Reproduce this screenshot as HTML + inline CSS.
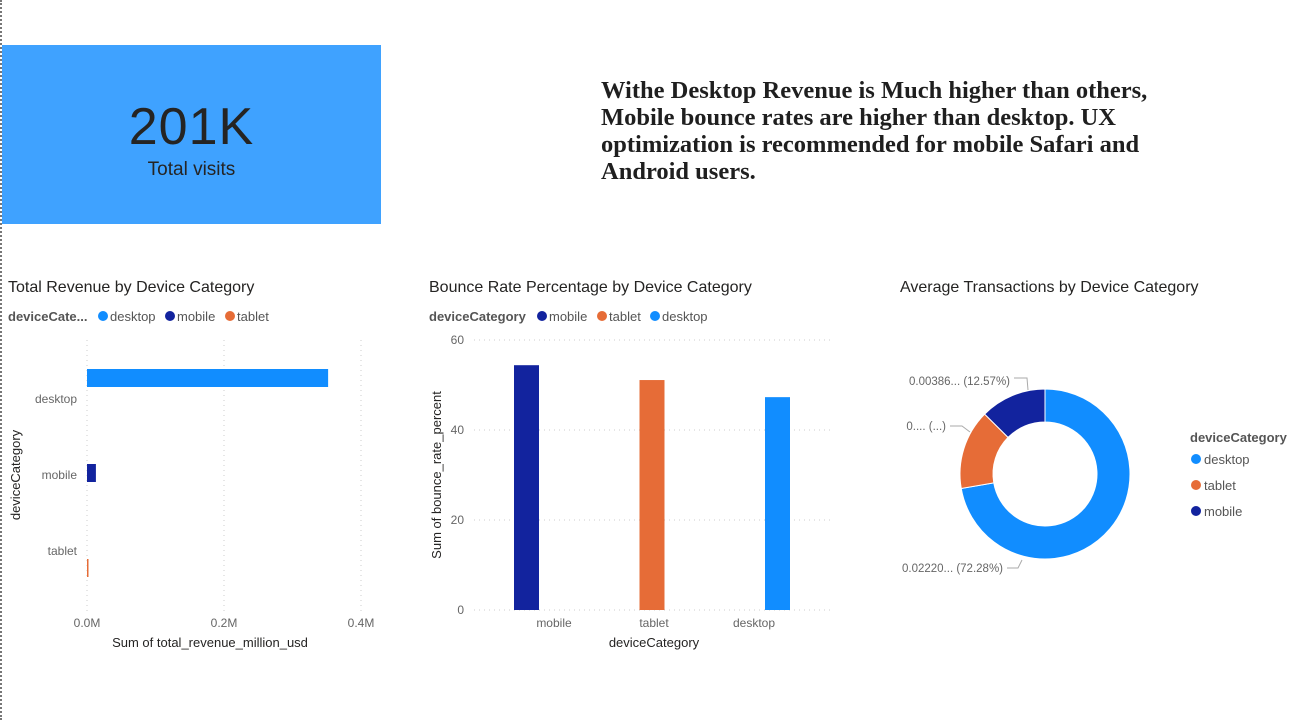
<!DOCTYPE html>
<html><head><meta charset="utf-8">
<style>
body{margin:0;width:1306px;height:720px;background:#fff;overflow:hidden;font-family:"Liberation Sans","DejaVu Sans",sans-serif;position:relative}
.abs{position:absolute}
</style></head>
<body>
<div class="abs" style="left:0;top:0;width:0;height:720px;border-left:2px dotted #777"></div>
<div class="abs" style="left:2px;top:45px;width:379px;height:179px;background:#3fa2ff;text-align:center">
  <div style="margin-top:52px;font-size:52px;color:#252423;line-height:60px;letter-spacing:1px">201K</div>
  <div style="font-size:19px;color:#252423;margin-top:2px">Total visits</div>
</div>
<div class="abs" style="left:601px;top:77px;width:590px;font-family:'Liberation Serif',serif;font-weight:bold;font-size:24.5px;line-height:27px;color:#1f1f1f">Withe Desktop Revenue is Much higher than others, Mobile bounce rates are higher than desktop. UX optimization is recommended for mobile Safari and Android users.</div>

<svg class="abs" style="left:0;top:0" width="1306" height="720" font-family="Liberation Sans, DejaVu Sans, sans-serif">
<g id="c1">
  <text x="8" y="292" font-size="16" fill="#252423">Total Revenue by Device Category</text>
  <text x="8" y="321" font-size="13" font-weight="bold" fill="#555">deviceCate...</text>
  <g>
    <circle cx="103" cy="316" r="5" fill="#118dff"/><text x="110" y="321" font-size="13" fill="#555">desktop</text>
    <circle cx="170" cy="316" r="5" fill="#12239e"/><text x="177" y="321" font-size="13" fill="#555">mobile</text>
    <circle cx="230" cy="316" r="5" fill="#e66c37"/><text x="237" y="321" font-size="13" fill="#555">tablet</text>
  </g>
  <text transform="translate(20,475) rotate(-90)" text-anchor="middle" font-size="13" fill="#252423">deviceCategory</text>
  <text x="210" y="647" text-anchor="middle" font-size="13" fill="#252423">Sum of total_revenue_million_usd</text>
</g>
<g id="c2">
  <text x="429" y="292" font-size="16" fill="#252423">Bounce Rate Percentage by Device Category</text>
  <text x="429" y="321" font-size="13" font-weight="bold" fill="#555">deviceCategory</text>
  <g>
    <circle cx="542" cy="316" r="5" fill="#12239e"/><text x="549" y="321" font-size="13" fill="#555">mobile</text>
    <circle cx="602" cy="316" r="5" fill="#e66c37"/><text x="609" y="321" font-size="13" fill="#555">tablet</text>
    <circle cx="655" cy="316" r="5" fill="#118dff"/><text x="662" y="321" font-size="13" fill="#555">desktop</text>
  </g>
  <text transform="translate(441,475) rotate(-90)" text-anchor="middle" font-size="13" fill="#252423">Sum of bounce_rate_percent</text>
  <text x="654" y="647" text-anchor="middle" font-size="13" fill="#252423">deviceCategory</text>
</g>
<g id="c3">
  <text x="900" y="292" font-size="16" fill="#252423">Average Transactions by Device Category</text>
  <text x="1190" y="442" font-size="13" font-weight="bold" fill="#555">deviceCategory</text>
  <g>
    <circle cx="1196" cy="459" r="5" fill="#118dff"/><text x="1204" y="464" font-size="13" fill="#555">desktop</text>
    <circle cx="1196" cy="485" r="5" fill="#e66c37"/><text x="1204" y="490" font-size="13" fill="#555">tablet</text>
    <circle cx="1196" cy="511" r="5" fill="#12239e"/><text x="1204" y="516" font-size="13" fill="#555">mobile</text>
  </g>
</g>
</svg>
<script>
const NS='http://www.w3.org/2000/svg';
function mk(tag,attrs,parent,txt){const e=document.createElementNS(NS,tag);for(const k in attrs)e.setAttribute(k,attrs[k]);if(txt!==undefined)e.textContent=txt;parent.appendChild(e);return e;}
const colors={desktop:'#118dff',mobile:'#12239e',tablet:'#e66c37'};

// Chart 1 data
const revCategories=['desktop','mobile','tablet'];
const revValues=[0.352,0.013,0.002];
const revTicks=[0,0.2,0.4];
const revTickLabels=['0.0M','0.2M','0.4M'];

// Chart 2 data
const bounceCategories=['mobile','tablet','desktop'];
const bounceValues=[54.4,51.1,47.3];
const bounceTicks=[0,20,40,60];

// Chart 3 data
const donutCategories=['desktop','tablet','mobile'];
const donutPercents=[72.28,15.15,12.57];
const donutLabels=['0.02220... (72.28%)','0.... (...)','0.00386... (12.57%)'];

// chart1
const c1=document.getElementById('c1');
const x1=v=>87+v*(274/0.4);
revTicks.forEach((t,i)=>{
  const l=mk('line',{x1:x1(t),x2:x1(t),y1:340,y2:612,stroke:'#ccc','stroke-dasharray':'1 4'},c1);
  
  
  const tx=mk('text',{x:x1(t),y:627,'text-anchor':'middle','font-size':12,fill:'#666'},c1,revTickLabels[i]);
  
  
});
revCategories.forEach((c,i)=>{
  const cy=378+i*95;
  const r=mk('rect',{x:x1(0),y:cy-9,width:Math.max(1.5,x1(revValues[i])-x1(0)),height:18,fill:colors[c]},c1);
  
  
  const t=mk('text',{x:77,y:403+i*76,'text-anchor':'end','font-size':12,fill:'#666'},c1,c);
  
  
});

// chart2
const c2=document.getElementById('c2');
const y2=v=>610-v*(270/60);
bounceTicks.forEach(t=>{
  const l=mk('line',{x1:474,x2:832,y1:y2(t),y2:y2(t),stroke:'#ccc','stroke-dasharray':'1 4'},c2);
  
  
  const tx=mk('text',{x:464,y:y2(t)+4,'text-anchor':'end','font-size':12,fill:'#666'},c2,String(t));
  
  
});
bounceCategories.forEach((c,i)=>{
  const cx=554+i*100;
  const r=mk('rect',{x:cx-40+i*25.5,y:y2(bounceValues[i]),width:25,height:y2(0)-y2(bounceValues[i]),fill:colors[c]},c2);
  
  
  const t=mk('text',{x:cx,y:627,'text-anchor':'middle','font-size':12,fill:'#666'},c2,c);
  
  
});

// chart3
const c3=document.getElementById('c3');
const cx3=1045,cy3=474,R=85,r0=52;
let a=0;const total=donutPercents.reduce((s,v)=>s+v,0);
const labelPos=[[1003,568],[946,426],[1010,381]];
const leaders=['1007,568 1018,568 1022,560','950,426 962,426 970,432','1014,378 1027,378 1028,390'];
donutCategories.forEach((c,i)=>{
  const a0=a, a1=a+donutPercents[i]/total*2*Math.PI; a=a1;
  const p=(ang,rad)=>[cx3+rad*Math.sin(ang),cy3-rad*Math.cos(ang)];
  const big=(a1-a0)>Math.PI?1:0;
  const [x0,y0]=p(a0,R),[xa,ya]=p(a1,R),[xi,yi]=p(a1,r0),[xj,yj]=p(a0,r0);
  const d=`M${x0},${y0}A${R},${R} 0 ${big} 1 ${xa},${ya}L${xi},${yi}A${r0},${r0} 0 ${big} 0 ${xj},${yj}Z`;
  const s=mk('path',{d:d,fill:colors[c],stroke:'#fff','stroke-width':1},c3);
  
  
  const lp=labelPos[i];
  const t=mk('text',{x:lp[0],y:lp[1]+4,'text-anchor':'end','font-size':11.5,fill:'#666'},c3,donutLabels[i]);
  
  
  const ln=mk('polyline',{points:leaders[i],fill:'none',stroke:'#aaa'},c3);
  
  
});
</script>
</body></html>
